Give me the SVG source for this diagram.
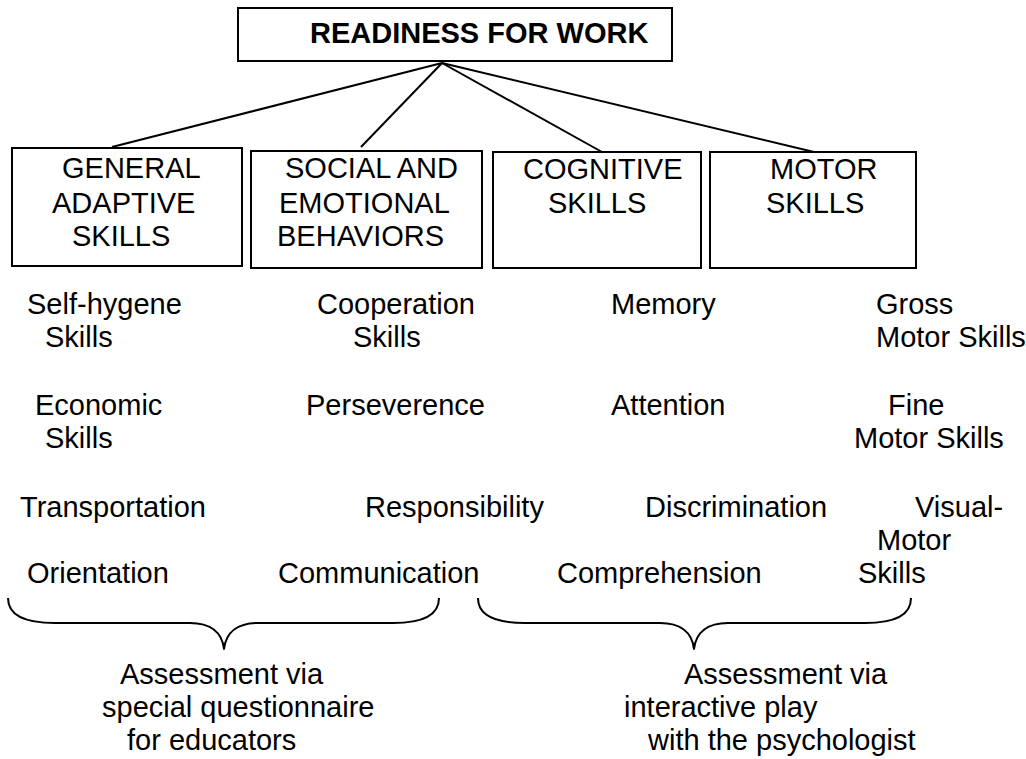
<svg xmlns="http://www.w3.org/2000/svg" width="1026" height="759" viewBox="0 0 1026 759">
  <style>
    .box { fill: #ffffff; stroke: #000000; stroke-width: 2; }
    .link { fill: none; stroke: #000000; stroke-width: 2; }
    .brace { fill: none; stroke: #000000; stroke-width: 2; stroke-linejoin: round; }
    text { font-family: "Liberation Sans", Arial, sans-serif; font-size: 29px; fill: #000000; }
    .title { font-weight: bold; }
  </style>
  <rect x="0" y="0" width="1026" height="759" fill="#ffffff"/>

  <!-- connectors from the root to the four skill areas -->
  <g id="connectors">
    <line class="link" x1="442" y1="63" x2="112" y2="147"/>
    <line class="link" x1="442" y1="63" x2="361" y2="147"/>
    <line class="link" x1="442" y1="63" x2="602" y2="152"/>
    <line class="link" x1="442" y1="63" x2="814" y2="152"/>
  </g>

  <g id="node-root">
    <rect class="box" x="238" y="8" width="434" height="53"/>
    <text class="title" x="310" y="43">READINESS FOR WORK</text>
  </g>

  <g id="node-general">
    <rect class="box" x="12" y="148" width="230" height="118"/>
    <text x="62" y="178">GENERAL</text>
    <text x="52" y="213">ADAPTIVE</text>
    <text x="72" y="246">SKILLS</text>
  </g>

  <g id="node-social">
    <rect class="box" x="251" y="151" width="231" height="117"/>
    <text x="285" y="178">SOCIAL AND</text>
    <text x="279" y="213">EMOTIONAL</text>
    <text x="277" y="246">BEHAVIORS</text>
  </g>

  <g id="node-cognitive">
    <rect class="box" x="493" y="152" width="208" height="116"/>
    <text x="523" y="179">COGNITIVE</text>
    <text x="548" y="213">SKILLS</text>
  </g>

  <g id="node-motor">
    <rect class="box" x="710" y="152" width="206" height="116"/>
    <text x="770" y="179">MOTOR</text>
    <text x="766" y="213">SKILLS</text>
  </g>

  <!-- skill lists under each area -->
  <g id="list-general">
    <text x="27" y="314">Self-hygene</text>
    <text x="45" y="347">Skills</text>
    <text x="35" y="415">Economic</text>
    <text x="45" y="448">Skills</text>
    <text x="20" y="517">Transportation</text>
    <text x="27" y="583">Orientation</text>
  </g>

  <g id="list-social">
    <text x="317" y="314">Cooperation</text>
    <text x="353" y="347">Skills</text>
    <text x="306" y="415">Perseverence</text>
    <text x="365" y="517">Responsibility</text>
    <text x="278" y="583">Communication</text>
  </g>

  <g id="list-cognitive">
    <text x="611" y="314">Memory</text>
    <text x="611" y="415">Attention</text>
    <text x="645" y="517">Discrimination</text>
    <text x="557" y="583">Comprehension</text>
  </g>

  <g id="list-motor">
    <text x="876" y="314">Gross</text>
    <text x="876" y="347">Motor Skills</text>
    <text x="888" y="415">Fine</text>
    <text x="854" y="448">Motor Skills</text>
    <text x="915" y="517">Visual-</text>
    <text x="877" y="550">Motor</text>
    <text x="858" y="583">Skills</text>
  </g>

  <!-- grouping braces and assessment methods -->
  <g id="group-educators">
    <path class="brace" d="M 8,598 C 8,615 25,623 55,623 L 190,623 C 210,623 222,632 224,649 C 226,632 238,623 258,623 L 393,623 C 423,623 439,615 439,598"/>
    <text x="120" y="684">Assessment via</text>
    <text x="102" y="717">special questionnaire</text>
    <text x="127" y="750">for educators</text>
  </g>

  <g id="group-psychologist">
    <path class="brace" d="M 478,598 C 478,615 495,623 525,623 L 660,623 C 680,623 692,632 694,649 C 696,632 708,623 728,623 L 865,623 C 895,623 911,615 911,598"/>
    <text x="684" y="684">Assessment via</text>
    <text x="624" y="717">interactive play</text>
    <text x="648" y="750">with the psychologist</text>
  </g>
</svg>
